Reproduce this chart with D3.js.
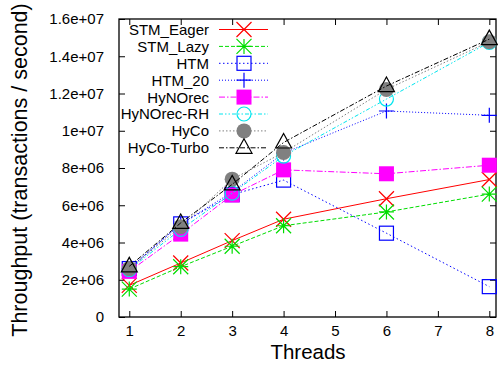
<!DOCTYPE html>
<html><head><meta charset="utf-8">
<script src="https://cdn.jsdelivr.net/npm/d3@7/dist/d3.min.js"></script>
<style>body{margin:0;background:#fff}svg{display:block}text{font-family:"Liberation Sans",Arial,sans-serif;fill:#000}</style>
</head><body><div id="c"></div>
<script>
const threads = [1, 2, 3, 4, 6, 8];
const xTicks = [1, 2, 3, 4, 5, 6, 7, 8];
const yTicks = [0, 2e6, 4e6, 6e6, 8e6, 1e7, 1.2e7, 1.4e7, 1.6e7];
const yTickLabels = ["0", "2e+06", "4e+06", "6e+06", "8e+06", "1e+07", "1.2e+07", "1.4e+07", "1.6e+07"];
const seriesNames = ["STM_Eager", "STM_Lazy", "HTM", "HTM_20", "HyNOrec", "HyNOrec-RH", "HyCo", "HyCo-Turbo"];
const stmEager  = [1.70e6, 2.90e6, 4.10e6, 5.25e6, 6.35e6, 7.38e6];
const stmLazy   = [1.50e6, 2.70e6, 3.80e6, 4.90e6, 5.64e6, 6.60e6];
const htm       = [2.60e6, 5.00e6, 6.57e6, 7.35e6, 4.50e6, 1.63e6];
const htm20     = [2.60e6, 5.00e6, 6.70e6, 8.80e6, 1.106e7, 1.083e7];
const hynorec   = [2.45e6, 4.45e6, 6.55e6, 7.90e6, 7.69e6, 8.15e6];
const hynorecRH = [2.55e6, 4.70e6, 6.65e6, 8.64e6, 1.170e7, 1.475e7];
const hyco      = [2.60e6, 4.85e6, 7.40e6, 8.83e6, 1.222e7, 1.478e7];
const hycoTurbo = [2.72e6, 5.05e6, 7.12e6, 9.37e6, 1.240e7, 1.492e7];
const seriesValues = [stmEager, stmLazy, htm, htm20, hynorec, hynorecRH, hyco, hycoTurbo];

const styles = [
  {color:"#ff0000", dash:null, marker:"x"},
  {color:"#00dd00", dash:"4,2", marker:"star"},
  {color:"#0000ff", dash:"1.5,2.5", marker:"square"},
  {color:"#0000ff", dash:"1,2", marker:"plus"},
  {color:"#ff00ff", dash:"6,2,1.5,2", marker:"fsquare"},
  {color:"#00e5ee", dash:"4,2,1.5,2,1.5,2", marker:"circle"},
  {color:"#808080", dash:"1.5,2", marker:"fcircle"},
  {color:"#000000", dash:"5,2,1.5,2", marker:"triangle"}
];

const W = 498, H = 368;
const L = 119, R = 496, T = 19, B = 317;
const svg = d3.select("#c").append("svg").attr("width", W).attr("height", H);
const x = d3.scaleLinear().domain([0.8, 8.13]).range([L, R]);
const y = d3.scaleLinear().domain([0, 1.6e7]).range([B, T]);

// axes
const fs = "15px";
const ax = svg.append("g").attr("transform", `translate(0,${B})`)
  .call(d3.axisBottom(x).tickValues(xTicks).tickSize(-6).tickPadding(8).tickFormat(d3.format("d")));
const ax2 = svg.append("g").attr("transform", `translate(0,${T})`)
  .call(d3.axisTop(x).tickValues(xTicks).tickSize(-6).tickFormat(""));
const ay = svg.append("g").attr("transform", `translate(${L},0)`)
  .call(d3.axisLeft(y).tickValues(yTicks).tickSize(-6).tickPadding(15).tickFormat((d,i)=>yTickLabels[i]));
const ay2 = svg.append("g").attr("transform", `translate(${R},0)`)
  .call(d3.axisRight(y).tickValues(yTicks).tickSize(-6).tickFormat(""));
[ax, ax2, ay, ay2].forEach(g => {
  g.select(".domain").remove();
  g.selectAll("line").attr("stroke", "#000").attr("stroke-width", 1);
  g.selectAll("text").style("font-size", fs).attr("fill", "#000");
});
svg.append("rect").attr("x", L).attr("y", T).attr("width", R - L).attr("height", B - T)
  .attr("fill", "none").attr("stroke", "#000").attr("stroke-width", 1.3);

// titles
svg.append("text").attr("x", 308).attr("y", 359).attr("text-anchor", "middle")
  .style("font-size", "20.5px").text("Threads");
svg.append("text").attr("transform", "translate(27,170) rotate(-90)").attr("text-anchor", "middle")
  .style("font-size", "21.5px").text("Throughput (transactions / second)");

function marker(g, type, cx, cy, color) {
  const s = 7.5;
  const m = g.append("g").attr("transform", `translate(${cx},${cy})`);
  if (type === "x") {
    m.append("path").attr("d", `M${-s},${-s}L${s},${s}M${-s},${s}L${s},${-s}`).attr("stroke", color).attr("stroke-width", 1.2);
  } else if (type === "star") {
    m.append("path").attr("d", `M${-s},${-s}L${s},${s}M${-s},${s}L${s},${-s}M${-s},0L${s},0M0,${-s}L0,${s}`).attr("stroke", color).attr("stroke-width", 1.2);
  } else if (type === "plus") {
    m.append("path").attr("d", `M${-s},0L${s},0M0,${-s}L0,${s}`).attr("stroke", color).attr("stroke-width", 1.2);
  } else if (type === "square") {
    m.append("rect").attr("x", -7).attr("y", -7).attr("width", 14).attr("height", 14).attr("fill", "none").attr("stroke", color).attr("stroke-width", 1.2);
  } else if (type === "fsquare") {
    m.append("rect").attr("x", -7.5).attr("y", -7.5).attr("width", 15).attr("height", 15).attr("fill", color);
  } else if (type === "circle") {
    m.append("circle").attr("r", 7).attr("fill", "none").attr("stroke", color).attr("stroke-width", 1.2);
  } else if (type === "fcircle") {
    m.append("circle").attr("r", 7.5).attr("fill", color);
  } else if (type === "triangle") {
    m.append("path").attr("d", "M0,-9L8,5.5L-8,5.5Z").attr("fill", "none").attr("stroke", color).attr("stroke-width", 1.2);
  }
}

const line = d3.line().x((d,i) => x(threads[i])).y(d => y(d));
const plot = svg.append("g");
seriesValues.forEach((vals, k) => {
  const st = styles[k];
  plot.append("path").attr("d", line(vals)).attr("fill", "none").attr("stroke", st.color)
    .attr("stroke-width", 1).attr("stroke-dasharray", st.dash);
  vals.forEach((v, i) => marker(plot, st.marker, x(threads[i]), y(v), st.color));
});

// legend
const leg = svg.append("g");
seriesNames.forEach((name, k) => {
  const st = styles[k];
  const ly = 29.5 + k * 16.9;
  leg.append("text").attr("x", 209).attr("y", ly).attr("dy", "0.36em").attr("text-anchor", "end")
    .style("font-size", fs).text(name);
  leg.append("line").attr("x1", 219).attr("x2", 268).attr("y1", ly).attr("y2", ly)
    .attr("stroke", st.color).attr("stroke-width", 1).attr("stroke-dasharray", st.dash);
  marker(leg, st.marker, 244, ly, st.color);
});
</script></body></html>
